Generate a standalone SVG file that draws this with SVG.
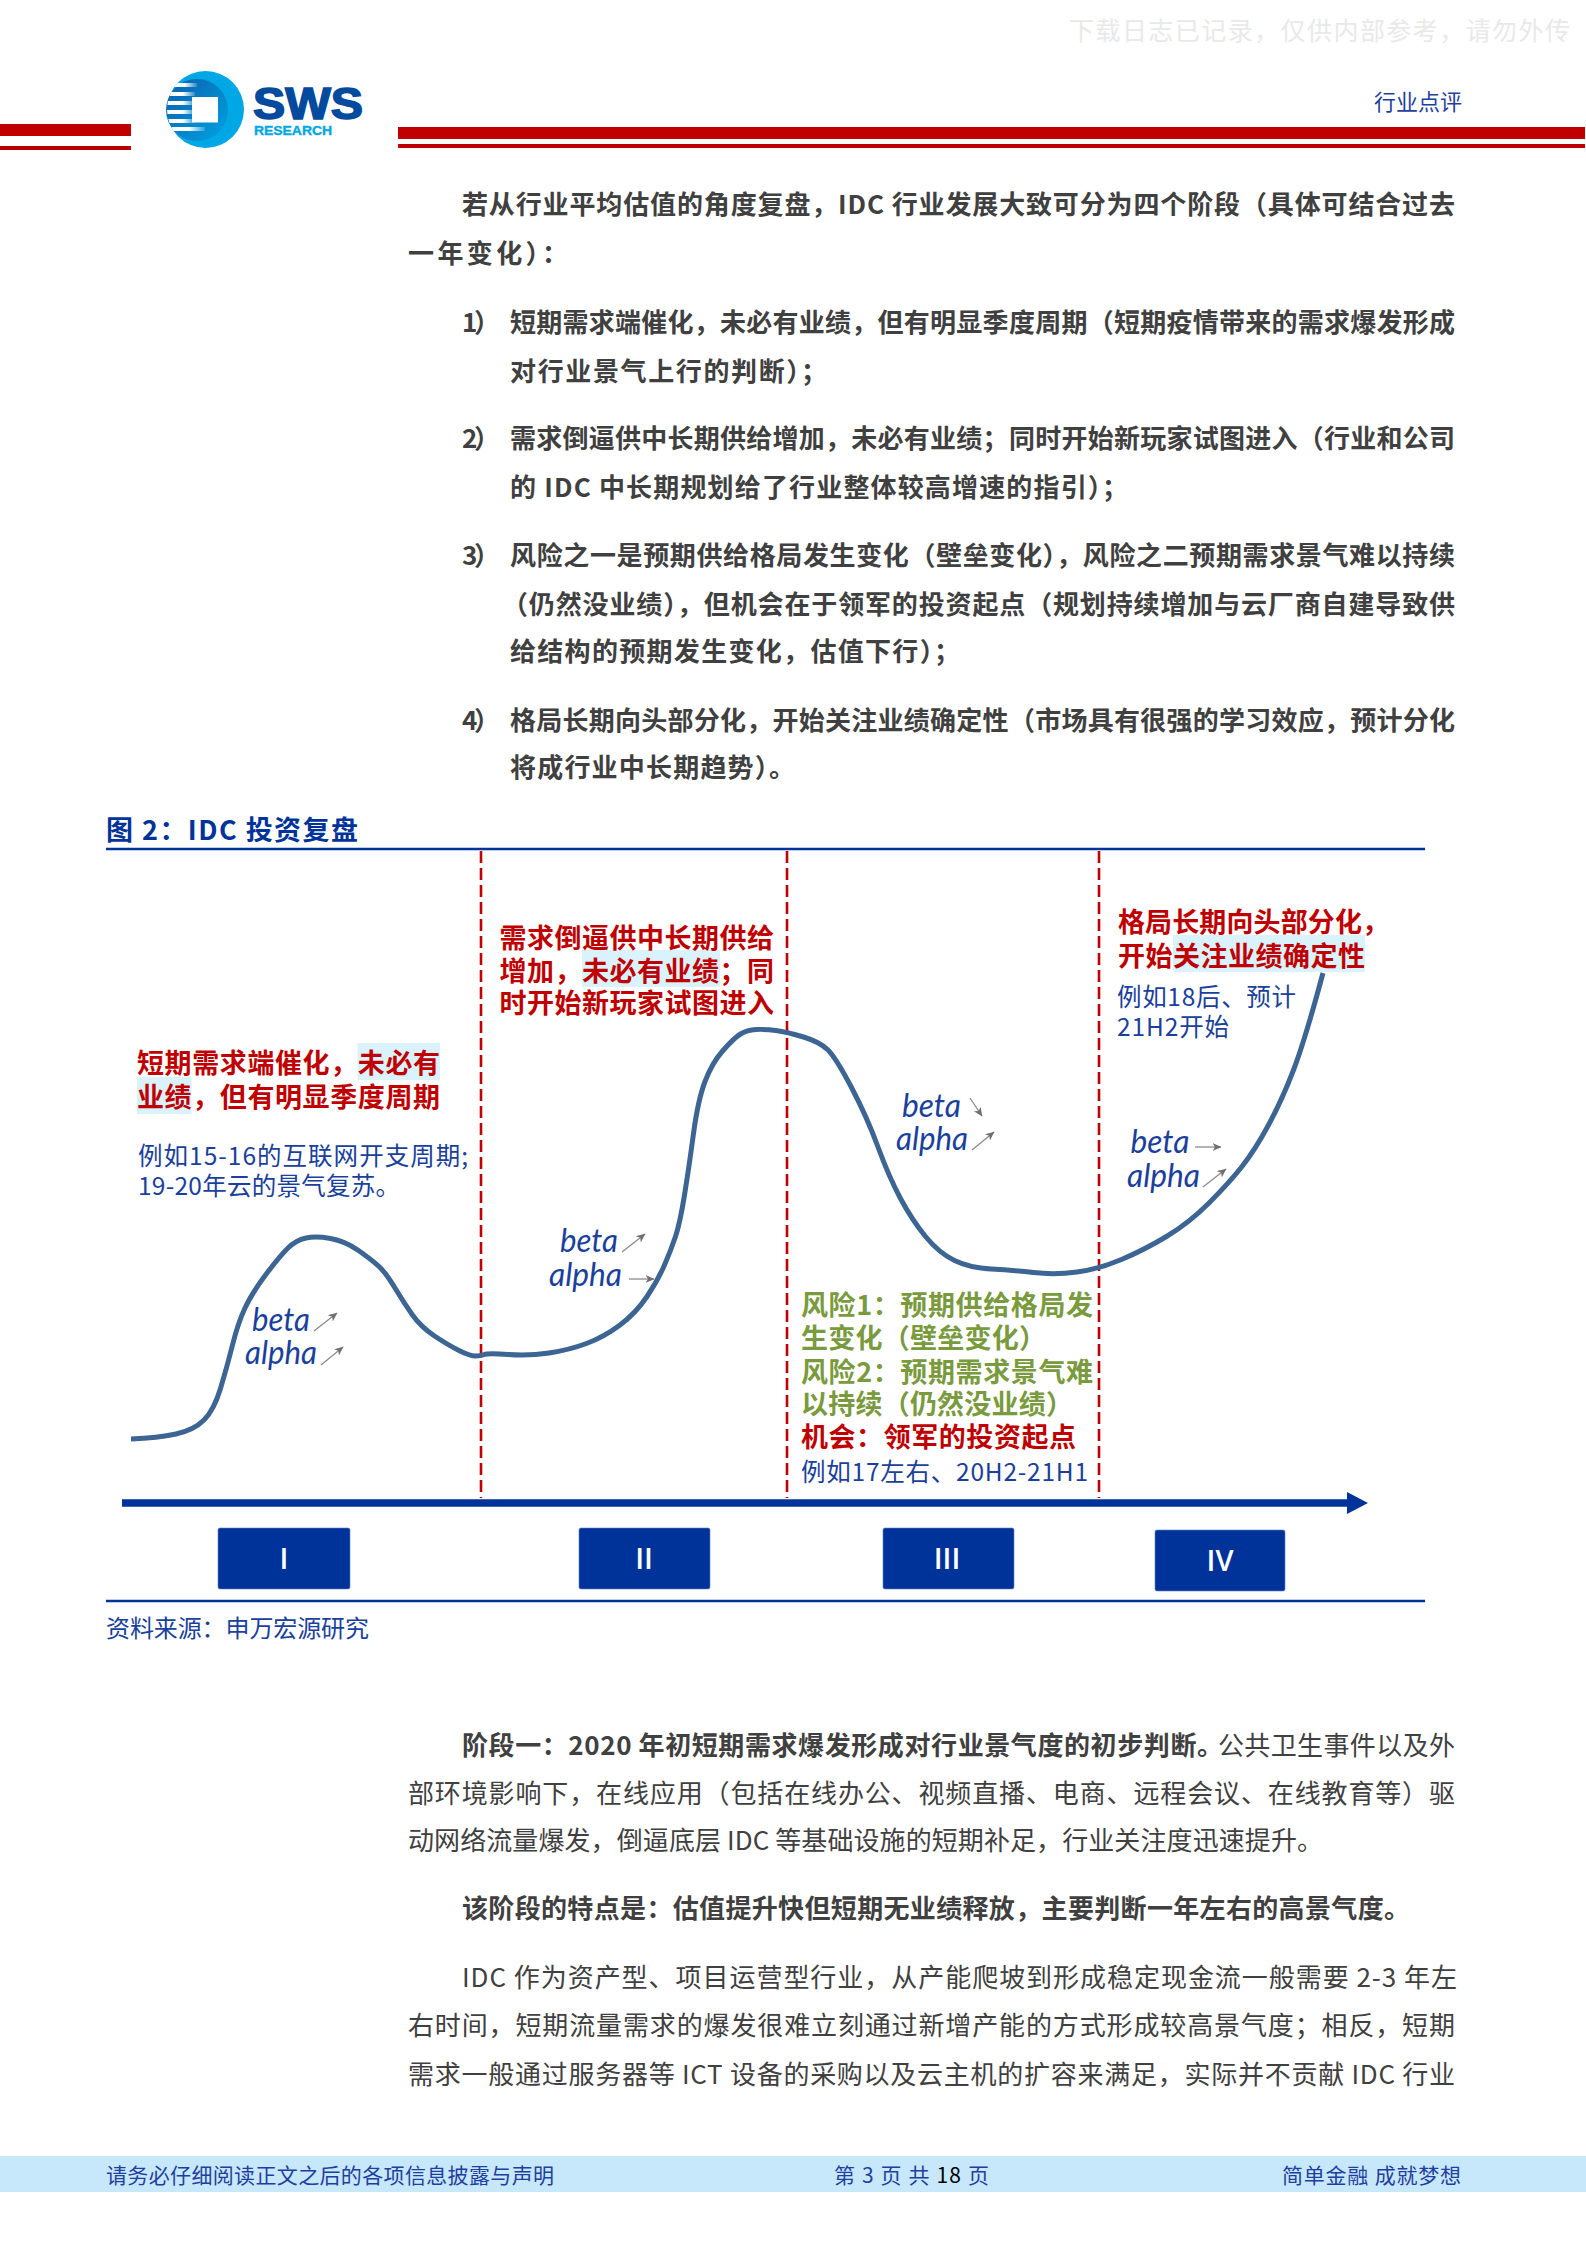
<svg xmlns="http://www.w3.org/2000/svg" width="1586" height="2244" viewBox="0 0 1586 2244">
<style>
text{font-family:"Noto Sans CJK SC","Noto Sans",sans-serif}
.b{font-size:26px;fill:#404040;font-weight:700}
.r{font-size:26px;fill:#404040;font-weight:400}
.red{font-size:27px;fill:#c00000;font-weight:700}
.grn{font-size:27px;fill:#7a9a3e;font-weight:700}
.blu{font-size:24.5px;fill:#1a3f9c;font-weight:400}
.gk{font-family:Lato,"Liberation Sans",sans-serif;font-size:33px;font-style:italic;fill:#1a3f9c}
.hl{fill:#d9f2fc}
.dash{stroke:#c00000;stroke-width:2.6;stroke-dasharray:12 5;fill:none}
.thin{stroke:#8a8a8a;stroke-width:1.3;fill:none;marker-end:url(#tip)}
.box{fill:#003399;stroke:#5f7fc4;stroke-width:.6}
.rom{font-family:"Open Sans","Liberation Sans",sans-serif;font-size:29px;font-weight:600;fill:#fff;text-anchor:middle}
.foot{font-size:21px;fill:#1f3f9f}
.rule{stroke:#003399;stroke-width:2.4}
.rd{fill:#c00000}
</style>
<defs>
<marker id="tip" markerWidth="10" markerHeight="10" refX="8.5" refY="4" orient="auto" markerUnits="userSpaceOnUse"><path d="M0 0L9 4L0 8L2.500 4Z" fill="#707070"/></marker>
<marker id="axisHead" markerWidth="22" markerHeight="22" refX="1" refY="11" orient="auto" markerUnits="userSpaceOnUse"><path d="M0 0L21 11L0 22Z" fill="#003399"/></marker>
<linearGradient id="inner" x1="0" y1="0" x2="1" y2="1"><stop offset="0" stop-color="#0b5fae"/><stop offset="1" stop-color="#00a3e2"/></linearGradient>
<linearGradient id="stripe" x1="0" y1="0" x2="1" y2="0"><stop offset="0" stop-color="#fff"/><stop offset=".6" stop-color="#fff"/><stop offset="1" stop-color="#fff" stop-opacity=".15"/></linearGradient>
<clipPath id="disc"><circle cx="205.5" cy="109.5" r="38.5"/></clipPath>
</defs>
<rect width="1586" height="2244" fill="#fff"/>

<g id="header">
<text x="1069" y="40" font-size="25" fill="#e9e9e9" font-weight="400" textLength="501">下载日志已记录，仅供内部参考，请勿外传</text>
<rect class="rd" x="0" y="124" width="131" height="12"/>
<rect class="rd" x="0" y="146" width="131" height="4"/>
<rect class="rd" x="398" y="127" width="1187" height="12"/>
<rect class="rd" x="398" y="144" width="1187" height="4"/>
<text x="1374" y="110" font-size="22" fill="#1f3f9f" textLength="88">行业点评</text>
<g id="logo">
<circle cx="205.5" cy="109.5" r="38.5" fill="#00a7e5"/>
<circle cx="197" cy="110" r="31" fill="url(#inner)"/>
<g clip-path="url(#disc)" fill="url(#stripe)">
<rect x="165" y="83" width="32" height="4"/>
<rect x="165" y="92" width="30" height="4"/>
<rect x="165" y="101" width="30" height="4"/>
<rect x="165" y="110" width="30" height="4"/>
<rect x="165" y="119" width="30" height="4"/>
<rect x="165" y="127" width="40" height="4"/>
</g>
<rect x="192" y="97" width="26" height="25.500" fill="#fff"/>
<text x="253" y="118.500" style="font-family:'Liberation Sans',sans-serif" font-size="44" font-weight="700" fill="#024a9e" stroke="#024a9e" stroke-width="1.600" textLength="110" lengthAdjust="spacingAndGlyphs">SWS</text>
<text x="254" y="135" style="font-family:'Liberation Sans',sans-serif" font-size="13.500" font-weight="700" fill="#00a7e5" stroke="#00a7e5" stroke-width=".4" textLength="78" lengthAdjust="spacingAndGlyphs">RESEARCH</text>
</g>
</g>

<g id="body-top">
<text class="b" x="462" y="214" textLength="993">若从行业平均估值的角度复盘，IDC 行业发展大致可分为四个阶段（具体可结合过去</text>
<text class="b" x="408" y="263" textLength="160">一年变化）：</text>
<text class="b" x="462" y="332" textLength="38">1）</text>
<text class="b" x="510" y="332" textLength="945">短期需求端催化，未必有业绩，但有明显季度周期（短期疫情带来的需求爆发形成</text>
<text class="b" x="510" y="381" textLength="317">对行业景气上行的判断）；</text>
<text class="b" x="462" y="448" textLength="38">2）</text>
<text class="b" x="510" y="448" textLength="945">需求倒逼供中长期供给增加，未必有业绩；同时开始新玩家试图进入（行业和公司</text>
<text class="b" x="510" y="497" textLength="618">的 IDC 中长期规划给了行业整体较高增速的指引）；</text>
<text class="b" x="462" y="565" textLength="38">3）</text>
<text class="b" x="510" y="565" textLength="945">风险之一是预期供给格局发生变化（壁垒变化），风险之二预期需求景气难以持续</text>
<text class="b" x="502" y="614" textLength="953">（仍然没业绩），但机会在于领军的投资起点（规划持续增加与云厂商自建导致供</text>
<text class="b" x="510" y="661" textLength="450">给结构的预期发生变化，估值下行）；</text>
<text class="b" x="462" y="730" textLength="38">4）</text>
<text class="b" x="510" y="730" textLength="945">格局长期向头部分化，开始关注业绩确定性（市场具有很强的学习效应，预计分化</text>
<text class="b" x="510" y="777" textLength="285">将成行业中长期趋势）。</text>
</g>

<g id="figure-title">
<text x="106" y="840" font-size="27" font-weight="700" fill="#003399" textLength="252">图 2：IDC 投资复盘</text>
<line class="rule" x1="106" y1="849" x2="1425" y2="849"/>
<line class="rule" x1="106" y1="1601" x2="1425" y2="1601"/>
</g>

<g id="connectors">
<line class="dash" x1="481" y1="851" x2="481" y2="1498"/>
<line class="dash" x1="787" y1="851" x2="787" y2="1498"/>
<line class="dash" x1="1099" y1="851" x2="1099" y2="1498"/>
<line id="time-axis" x1="122" y1="1503" x2="1348" y2="1503" stroke="#003399" stroke-width="7.500" marker-end="url(#axisHead)"/>
<path id="curve" fill="none" stroke="#3c6593" stroke-width="5" stroke-linecap="butt" stroke-linejoin="round" d="M131 1439 Q158 1438 176 1434 Q194 1430 204 1420 Q214 1410 220.5 1388.5 Q227 1367 232.5 1345 Q238 1323 245 1308 Q252 1293 265.5 1275 Q279 1257 287.5 1248.5 Q296 1240 306 1238 Q316 1236 330.5 1238.5 Q345 1241 358.5 1250.5 Q372 1260 379 1266.5 Q386 1273 395 1288 Q404 1303 412.500 1315 Q421 1327 434.5 1336 Q448 1345 459 1350.5 Q470 1356 475.5 1356 Q481 1356 484.5 1354.5 Q488 1353 508.5 1354.5 Q529 1356 549 1353 Q569 1350 586.5 1343.5 Q604 1337 620 1325 Q636 1313 647 1296.5 Q658 1280 664.5 1265 Q671 1250 675.5 1236.5 Q680 1223 684.5 1195 Q689 1167 693.5 1133.5 Q698 1100 705 1081.5 Q712 1063 723 1050.5 Q734 1038 740.5 1034 Q747 1030 756 1029.5 Q765 1029 776 1030.5 Q787 1032 803.5 1037 Q820 1042 828 1050 Q836 1058 851.5 1087.5 Q867 1117 878 1147 Q889 1177 900.5 1198.5 Q912 1220 925.5 1236.5 Q939 1253 954.5 1260.5 Q970 1268 991 1269 Q1012 1270 1033.5 1272.5 Q1055 1275 1077 1272 Q1099 1269 1121.5 1259.5 Q1144 1250 1166.5 1236.5 Q1189 1223 1209 1203 Q1229 1183 1242 1166.5 Q1255 1150 1268.5 1125 Q1282 1100 1293.5 1070 Q1305 1040 1323 973"/>
<line class="thin" x1="314" y1="1331" x2="337" y2="1313"/>
<line class="thin" x1="321" y1="1365" x2="343" y2="1347"/>
<line class="thin" x1="622" y1="1252" x2="645" y2="1234"/>
<line class="thin" x1="629" y1="1279" x2="654" y2="1279"/>
<line class="thin" x1="970" y1="1098" x2="982" y2="1116"/>
<line class="thin" x1="972" y1="1150" x2="994" y2="1132"/>
<line class="thin" x1="1195" y1="1147" x2="1221" y2="1147"/>
<line class="thin" x1="1203" y1="1187" x2="1226" y2="1169"/>
</g>

<g id="stage-1-note">
<rect class="hl" x="357.500" y="1043" width="82.500" height="37"/>
<rect class="hl" x="137" y="1077" width="54.500" height="37"/>
<text class="red" x="137" y="1073" textLength="303">短期需求端催化，未必有</text>
<text class="red" x="137" y="1107" textLength="303">业绩，但有明显季度周期</text>
<text class="blu" x="138" y="1165" textLength="330">例如15-16的互联网开支周期;</text>
<text class="blu" x="138" y="1195" textLength="262">19-20年云的景气复苏。</text>
<text class="gk" x="252" y="1331" textLength="58" lengthAdjust="spacingAndGlyphs">beta</text>
<text class="gk" x="245" y="1364" textLength="72" lengthAdjust="spacingAndGlyphs">alpha</text>
</g>
<g id="stage-2-note">
<rect class="hl" x="582" y="950" width="138" height="37"/>
<text class="red" x="499.500" y="948" textLength="274.500">需求倒逼供中长期供给</text>
<text class="red" x="499.500" y="981" textLength="274.500">增加，未必有业绩；同</text>
<text class="red" x="499.500" y="1013" textLength="274.500">时开始新玩家试图进入</text>
<text class="gk" x="560" y="1252" textLength="58" lengthAdjust="spacingAndGlyphs">beta</text>
<text class="gk" x="549" y="1286" textLength="73" lengthAdjust="spacingAndGlyphs">alpha</text>
</g>
<g id="stage-3-note">
<text class="gk" x="902" y="1117" textLength="59" lengthAdjust="spacingAndGlyphs">beta</text>
<text class="gk" x="896" y="1150" textLength="72" lengthAdjust="spacingAndGlyphs">alpha</text>
<text class="grn" x="801" y="1315" textLength="292">风险1：预期供给格局发</text>
<text class="grn" x="801" y="1348" textLength="245">生变化（壁垒变化）</text>
<text class="grn" x="801" y="1382" textLength="292">风险2：预期需求景气难</text>
<text class="grn" x="801" y="1414" textLength="272">以持续（仍然没业绩）</text>
<text class="red" x="801" y="1447" textLength="275">机会：领军的投资起点</text>
<text class="blu" x="801" y="1481" textLength="287">例如17左右、20H2-21H1</text>
</g>
<g id="stage-4-note">
<rect class="hl" x="1173" y="935" width="192" height="37"/>
<text class="red" x="1118" y="932" textLength="271">格局长期向头部分化，</text>
<text class="red" x="1118" y="966" textLength="247">开始关注业绩确定性</text>
<text class="blu" x="1117" y="1006" textLength="179">例如18后、预计</text>
<text class="blu" x="1117" y="1036" textLength="112">21H2开始</text>
<text class="gk" x="1130.500" y="1153" textLength="59" lengthAdjust="spacingAndGlyphs">beta</text>
<text class="gk" x="1127" y="1187" textLength="73" lengthAdjust="spacingAndGlyphs">alpha</text>
</g>

<g id="stage-I"><rect class="box" x="218" y="1528" width="132" height="61" rx="2"/><text class="rom" x="284" y="1569">I</text></g>
<g id="stage-II"><rect class="box" x="579" y="1528" width="131" height="61" rx="2"/><text class="rom" x="644" y="1569">II</text></g>
<g id="stage-III"><rect class="box" x="883" y="1528" width="131" height="61" rx="2"/><text class="rom" x="947" y="1569">III</text></g>
<g id="stage-IV"><rect class="box" x="1155" y="1530" width="130" height="61" rx="2"/><text class="rom" x="1220" y="1571">IV</text></g>

<g id="source">
<text x="106" y="1637" font-size="24" fill="#1a3f9c" textLength="263">资料来源：申万宏源研究</text>
</g>

<g id="body-bottom">
<text class="b" x="462" y="1754.500" textLength="761">阶段一：2020 年初短期需求爆发形成对行业景气度的初步判断。</text>
<text class="r" x="1218" y="1754.500" textLength="237">公共卫生事件以及外</text>
<text class="r" x="408" y="1802.500" textLength="1047">部环境影响下，在线应用（包括在线办公、视频直播、电商、远程会议、在线教育等）驱</text>
<text class="r" x="408" y="1850" textLength="915">动网络流量爆发，倒逼底层 IDC 等基础设施的短期补足，行业关注度迅速提升。</text>
<text class="b" x="462" y="1918" textLength="948">该阶段的特点是：估值提升快但短期无业绩释放，主要判断一年左右的高景气度。</text>
<text class="r" x="462" y="1986.500" textLength="995">IDC 作为资产型、项目运营型行业，从产能爬坡到形成稳定现金流一般需要 2-3 年左</text>
<text class="r" x="408" y="2035" textLength="1047">右时间，短期流量需求的爆发很难立刻通过新增产能的方式形成较高景气度；相反，短期</text>
<text class="r" x="408" y="2083.500" textLength="1047">需求一般通过服务器等 ICT 设备的采购以及云主机的扩容来满足，实际并不贡献 IDC 行业</text>
</g>

<g id="footer">
<rect x="0" y="2156" width="1586" height="36" fill="#c7e7fb"/>
<text class="foot" x="106" y="2183" textLength="448">请务必仔细阅读正文之后的各项信息披露与声明</text>
<text class="foot" x="834" y="2183" textLength="155">第 3 页 共 <tspan fill="#000">18</tspan> 页</text>
<text class="foot" x="1282" y="2183" textLength="179">简单金融 成就梦想</text>
</g>
</svg>
